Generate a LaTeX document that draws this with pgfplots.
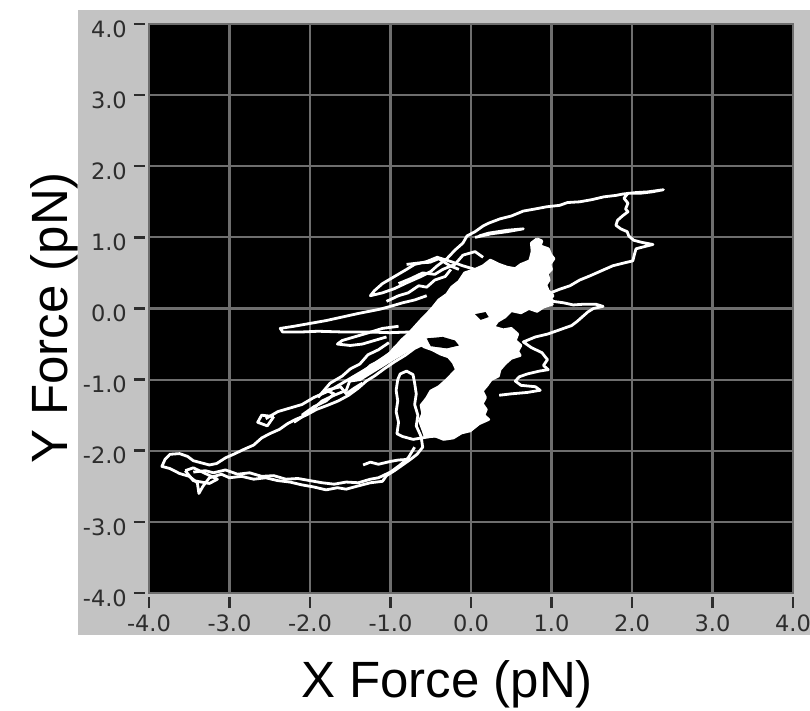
\documentclass[border=0pt]{standalone}
\usepackage{fontspec}
\setmainfont{Liberation Sans}
\newfontfamily\tickfont{DejaVu Sans}
\usepackage{pgfplots}
\pgfplotsset{compat=1.18}
\definecolor{panelgray}{RGB}{195,195,195}
\definecolor{gridgray}{RGB}{110,110,110}
\definecolor{tickgray}{RGB}{45,45,45}

\begin{document}
\begin{tikzpicture}
\useasboundingbox (-149pt,-118pt) rectangle (661pt,593pt);
\fill[panelgray] (-71pt,-42pt) rectangle (661pt,583pt);
\begin{axis}[
    scale only axis,
    width=644pt, height=569pt,
    xmin=-4, xmax=4, ymin=-4, ymax=4,
    xtick={-4,-3,...,4}, ytick={-4,-3,...,4},
    tick pos=left,
    axis background/.style={fill=black},
    grid=major,
    major grid style={gridgray, line width=2.2pt},
    axis line style={gridgray, line width=1pt},
    tick align=outside,
    major tick length=11pt,
    every x tick/.append style={yshift=-4pt},
    every y tick/.append style={xshift=-4pt},
    major tick style={tickgray, line width=2.5pt},
    /pgf/number format/assume math mode=true,
    /pgf/number format/fixed,
    /pgf/number format/fixed zerofill,
    /pgf/number format/precision=1,
    tick label style={font=\tickfont\fontsize{22.5}{22.5}\selectfont, text=tickgray, inner sep=0pt},
    xticklabel style={anchor=base, yshift=-27pt},
    yticklabel style={anchor=east, xshift=-11pt, yshift=-5pt},
    xlabel={X Force (pN)},
    ylabel={Y Force (pN)},
    label style={font=\fontsize{51}{51}\selectfont},
    xlabel style={at={(axis description cs:0.4627,0)}, anchor=base, yshift=-104pt},
    ylabel style={at={(axis description cs:0,0.4833)}, anchor=base, yshift=81pt},
    every axis plot post/.append style={line width=2.8pt, line join=round},
]
% dense central cloud
\addplot[draw=white, fill=white] coordinates {
  (0.82,0.98) (0.88,0.95) (0.86,0.88) (0.96,0.84) (0.99,0.76) (1.03,0.70)
  (0.98,0.62) (1.00,0.55) (0.95,0.49) (0.97,0.40) (0.93,0.33) (0.96,0.25)
  (1.02,0.18) (0.97,0.12) (1.01,0.06) (0.90,0.02) (0.82,-0.04) (0.72,0.00)
  (0.62,-0.06) (0.50,-0.03) (0.42,-0.12) (0.33,-0.18) (0.28,-0.26) (0.40,-0.30)
  (0.50,-0.28) (0.58,-0.36) (0.55,-0.45) (0.62,-0.52) (0.58,-0.60) (0.61,-0.66)
  (0.50,-0.70) (0.42,-0.78) (0.36,-0.86) (0.34,-0.95) (0.25,-1.00) (0.20,-1.08)
  (0.14,-1.16) (0.18,-1.25) (0.14,-1.34) (0.19,-1.42) (0.16,-1.50) (0.22,-1.56)
  (0.10,-1.62) (-0.01,-1.72) (-0.12,-1.75) (-0.22,-1.82) (-0.34,-1.84) (-0.45,-1.79)
  (-0.57,-1.80) (-0.60,-1.70) (-0.64,-1.58) (-0.60,-1.48) (-0.62,-1.36) (-0.55,-1.26)
  (-0.50,-1.16) (-0.40,-1.10) (-0.32,-1.02) (-0.25,-0.94) (-0.18,-0.86) (-0.22,-0.76)
  (-0.28,-0.68) (-0.38,-0.64) (-0.48,-0.58) (-0.58,-0.54) (-0.66,-0.48) (-0.75,-0.55)
  (-0.84,-0.58) (-0.92,-0.52) (-0.86,-0.44) (-0.78,-0.36) (-0.70,-0.26) (-0.62,-0.16)
  (-0.55,-0.08) (-0.47,0.02) (-0.40,0.12) (-0.30,0.20) (-0.24,0.30) (-0.15,0.38)
  (-0.08,0.50) (0.05,0.55) (0.15,0.60) (0.24,0.68) (0.35,0.62) (0.45,0.58)
  (0.55,0.56) (0.62,0.62) (0.73,0.67) (0.76,0.80) (0.75,0.92) (0.82,0.98)
};
% dense band towards lower left
\addplot[draw=white, fill=white] coordinates {
  (-1.50,-1.02) (-1.30,-0.85) (-1.10,-0.70) (-0.92,-0.56) (-0.75,-0.42) (-0.62,-0.32)
  (-0.62,-0.50) (-0.80,-0.60) (-0.98,-0.72) (-1.18,-0.86) (-1.38,-1.00) (-1.50,-1.02)
};
% holes inside the cloud
\addplot[draw=none, fill=black] coordinates {
  (-0.55,-0.42) (-0.35,-0.40) (-0.20,-0.45) (-0.15,-0.52) (-0.30,-0.56) (-0.50,-0.53) (-0.55,-0.42)
};
\addplot[draw=none, fill=black] coordinates {
  (0.05,-0.08) (0.18,-0.05) (0.22,-0.12) (0.12,-0.16) (0.05,-0.08)
};
% upper arm and upper right loop
\addplot[white] coordinates {
  (0.30,0.30) (0.15,0.45) (0.05,0.55) (-0.10,0.60) (-0.25,0.66) (-0.42,0.72)
  (-0.55,0.66) (-0.70,0.62) (-0.80,0.55) (-0.95,0.45) (-1.10,0.35) (-1.20,0.25)
  (-1.25,0.18) (-1.10,0.22) (-0.95,0.28) (-0.80,0.36) (-0.62,0.45) (-0.50,0.52)
  (-0.42,0.60) (-0.30,0.70) (-0.20,0.82) (-0.10,0.92) (-0.05,1.02) (0.05,1.08)
  (0.15,1.16) (0.22,1.20) (0.36,1.26) (0.50,1.30) (0.65,1.37) (0.80,1.40)
  (0.94,1.43) (1.10,1.45) (1.20,1.49) (1.35,1.50) (1.50,1.53) (1.65,1.57)
  (1.80,1.59) (1.89,1.61) (2.05,1.63) (2.20,1.64) (2.39,1.67) (2.25,1.64)
  (2.10,1.62) (1.95,1.62) (1.90,1.55) (1.95,1.48) (1.92,1.40) (1.95,1.36)
  (1.88,1.30) (1.82,1.24) (1.80,1.17) (1.86,1.12) (1.94,1.08) (1.96,1.02)
  (2.02,0.96) (2.12,0.93) (2.26,0.90) (2.12,0.86) (2.05,0.84) (2.03,0.76)
  (2.01,0.67) (1.90,0.64) (1.76,0.60) (1.62,0.53) (1.48,0.46) (1.35,0.40)
  (1.23,0.32) (1.10,0.27) (1.01,0.23) (0.98,0.15) (1.02,0.10) (1.15,0.08)
  (1.27,0.05) (1.40,0.06) (1.55,0.06) (1.64,0.03) (1.52,0.00) (1.45,-0.05)
  (1.38,-0.12) (1.32,-0.18) (1.25,-0.24) (1.10,-0.30) (0.95,-0.36) (0.80,-0.40)
  (0.65,-0.47) (0.75,-0.55) (0.88,-0.62) (0.95,-0.72) (0.90,-0.80) (0.96,-0.86)
  (0.85,-0.88) (0.70,-0.92) (0.60,-0.96) (0.55,-1.02) (0.62,-1.08) (0.80,-1.10)
  (0.86,-1.15) (0.70,-1.18) (0.50,-1.20) (0.35,-1.22)
};
% short spurs near the top
\addplot[white] coordinates {
  (0.05,1.00) (0.25,1.05) (0.45,1.08) (0.65,1.12) (0.45,1.10) (0.22,1.06) (0.10,1.02)
};
\addplot[white] coordinates {
  (-0.80,0.62) (-0.65,0.64) (-0.51,0.65) (-0.40,0.70) (-0.26,0.60) (-0.15,0.55)
};
\addplot[white] coordinates {
  (-0.90,0.35) (-0.75,0.42) (-0.60,0.50) (-0.45,0.48) (-0.35,0.55) (-0.20,0.62)
  (-0.10,0.75) (0.05,0.80) (0.15,0.72)
};
\addplot[white] coordinates {
  (-1.05,0.10) (-0.90,0.18) (-0.78,0.22) (-0.65,0.32) (-0.55,0.30) (-0.45,0.40)
  (-0.32,0.45) (-0.25,0.55)
};
% lower loop, tail and return arm
\addplot[white] coordinates {
  (0.20,-1.55) (0.05,-1.62) (-0.10,-1.70) (-0.30,-1.78) (-0.50,-1.80) (-0.72,-1.84)
  (-0.85,-1.80) (-0.92,-1.76) (-0.90,-1.60) (-0.93,-1.45) (-0.91,-1.30) (-0.93,-1.15)
  (-0.91,-1.00) (-0.88,-0.92) (-0.80,-0.88) (-0.72,-0.93) (-0.70,-1.05) (-0.68,-1.20)
  (-0.70,-1.35) (-0.66,-1.50) (-0.68,-1.65) (-0.62,-1.80) (-0.60,-1.95) (-0.67,-2.05)
  (-0.75,-2.12) (-0.85,-2.20) (-0.95,-2.28) (-1.05,-2.35) (-1.10,-2.43) (-1.25,-2.45)
  (-1.42,-2.50) (-1.55,-2.54) (-1.66,-2.52) (-1.80,-2.55) (-1.95,-2.51) (-2.10,-2.48)
  (-2.25,-2.44) (-2.40,-2.42) (-2.55,-2.38) (-2.70,-2.40) (-2.85,-2.36) (-3.00,-2.38)
  (-3.10,-2.33) (-3.25,-2.38) (-3.33,-2.50) (-3.38,-2.60) (-3.40,-2.45) (-3.50,-2.36)
  (-3.62,-2.32) (-3.74,-2.25) (-3.84,-2.22) (-3.80,-2.12) (-3.74,-2.05) (-3.62,-2.04)
  (-3.52,-2.08) (-3.45,-2.14) (-3.35,-2.17) (-3.25,-2.20) (-3.16,-2.18) (-3.05,-2.10)
  (-2.95,-2.05) (-2.82,-1.98) (-2.70,-1.92) (-2.60,-1.82) (-2.50,-1.76) (-2.38,-1.70)
  (-2.28,-1.62) (-2.18,-1.56) (-2.05,-1.50) (-1.92,-1.42) (-1.78,-1.36) (-1.65,-1.30)
  (-1.52,-1.22) (-1.40,-1.12) (-1.30,-1.02) (-1.20,-0.95) (-1.08,-0.85) (-0.95,-0.75)
  (-0.82,-0.66) (-0.70,-0.56) (-0.55,-0.48)
};
\addplot[white] coordinates {
  (-3.45,-2.30) (-3.30,-2.28) (-3.20,-2.31) (-3.05,-2.27) (-2.90,-2.33) (-2.75,-2.31)
  (-2.60,-2.36) (-2.45,-2.35) (-2.30,-2.40) (-2.15,-2.39) (-2.00,-2.42) (-1.85,-2.45)
  (-1.70,-2.47) (-1.55,-2.44) (-1.40,-2.45) (-1.25,-2.40) (-1.15,-2.38) (-1.00,-2.30)
  (-0.88,-2.20) (-0.78,-2.10) (-0.70,-1.95)
};
\addplot[white] coordinates {
  (-3.55,-2.28) (-3.45,-2.24) (-3.30,-2.32) (-3.15,-2.40) (-3.25,-2.46) (-3.45,-2.42)
  (-3.55,-2.28)
};
\addplot[white] coordinates {
  (-1.34,-2.20) (-1.25,-2.16) (-1.15,-2.19) (-1.00,-2.15) (-0.90,-2.13) (-0.76,-2.12)
};
\addplot[white] coordinates {
  (-2.55,-1.55) (-2.40,-1.45) (-2.25,-1.40) (-2.10,-1.35) (-1.95,-1.25) (-1.75,-1.15)
  (-1.60,-1.05) (-1.45,-0.95) (-1.30,-0.85) (-1.15,-0.78) (-1.00,-0.68) (-0.85,-0.60)
};
\addplot[white] coordinates {
  (-2.45,-1.52) (-2.53,-1.65) (-2.65,-1.60) (-2.60,-1.50) (-2.45,-1.52)
};
\addplot[white] coordinates {
  (-2.10,-1.50) (-1.95,-1.38) (-1.80,-1.30) (-1.70,-1.20) (-1.80,-1.15) (-1.62,-1.10)
  (-1.55,-1.20) (-1.45,-1.12) (-1.35,-1.05)
};
\addplot[white] coordinates {
  (-1.90,-1.25) (-1.75,-1.05) (-1.60,-0.95) (-1.50,-0.85) (-1.38,-0.78) (-1.28,-0.65)
  (-1.15,-0.58) (-1.02,-0.48)
};
% long thin loop at the left
\addplot[white] coordinates {
  (-0.60,-0.30) (-0.75,-0.33) (-1.01,-0.34) (-1.30,-0.33) (-1.60,-0.33) (-1.90,-0.32)
  (-2.10,-0.33) (-2.34,-0.33) (-2.37,-0.28) (-2.20,-0.25) (-2.00,-0.21) (-1.80,-0.17)
  (-1.60,-0.12) (-1.40,-0.07) (-1.13,-0.01) (-1.00,0.03) (-0.85,0.08) (-0.70,0.12)
  (-0.55,0.18)
};
\addplot[white] coordinates {
  (-0.90,-0.25) (-1.10,-0.28) (-1.30,-0.35) (-1.45,-0.40) (-1.60,-0.45) (-1.66,-0.50)
  (-1.50,-0.52) (-1.35,-0.50) (-1.20,-0.45) (-1.05,-0.40)
};
\addplot[white] coordinates {
  (-2.20,-1.60) (-2.00,-1.45) (-1.85,-1.30) (-1.70,-1.22) (-1.55,-1.15) (-1.50,-1.00)
  (-1.35,-0.92) (-1.25,-0.80) (-1.10,-0.72) (-1.00,-0.62) (-0.95,-0.55) (-0.85,-0.45)
  (-0.70,-0.40) (-0.55,-0.35)
};
\end{axis}
\end{tikzpicture}
\end{document}
